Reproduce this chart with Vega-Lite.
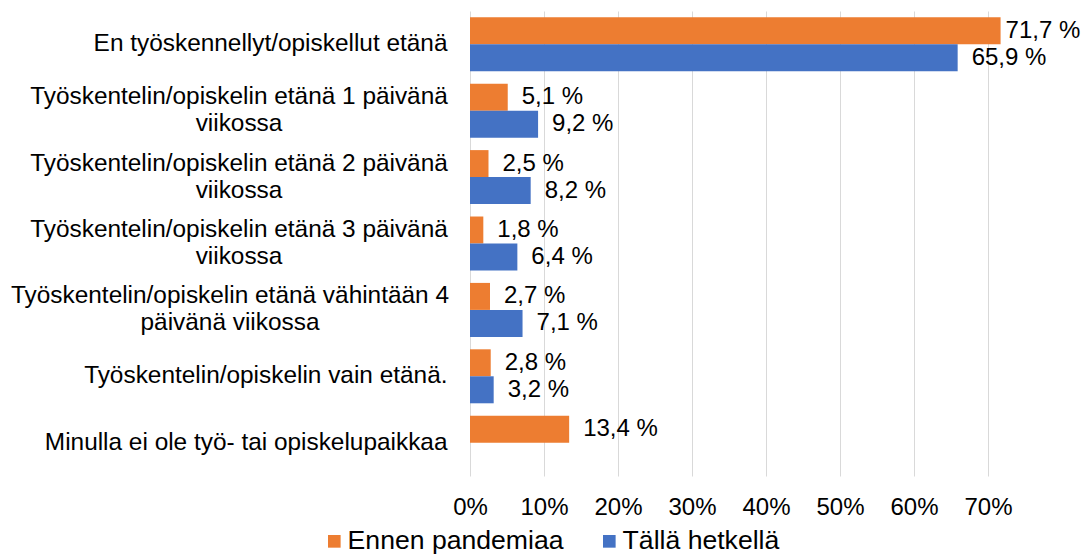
{
  "$schema": "https://vega.github.io/schema/vega-lite/v6.json",
  "autosize": {"type": "none"},
  "padding": {"left": 470, "top": 11, "right": 24, "bottom": 79},
  "width": 592,
  "height": 465,
  "background": "white",
  "config": {
    "font": "Liberation Sans",
    "view": {"stroke": null}
  },
  "data": {
    "values": [
      {"kategoria": "En työskennellyt/opiskellut etänä", "sarja": "Ennen pandemiaa", "arvo": 71.7},
      {"kategoria": "En työskennellyt/opiskellut etänä", "sarja": "Tällä hetkellä", "arvo": 65.9},
      {"kategoria": "Työskentelin/opiskelin etänä 1 päivänä viikossa", "sarja": "Ennen pandemiaa", "arvo": 5.1},
      {"kategoria": "Työskentelin/opiskelin etänä 1 päivänä viikossa", "sarja": "Tällä hetkellä", "arvo": 9.2},
      {"kategoria": "Työskentelin/opiskelin etänä 2 päivänä viikossa", "sarja": "Ennen pandemiaa", "arvo": 2.5},
      {"kategoria": "Työskentelin/opiskelin etänä 2 päivänä viikossa", "sarja": "Tällä hetkellä", "arvo": 8.2},
      {"kategoria": "Työskentelin/opiskelin etänä 3 päivänä viikossa", "sarja": "Ennen pandemiaa", "arvo": 1.8},
      {"kategoria": "Työskentelin/opiskelin etänä 3 päivänä viikossa", "sarja": "Tällä hetkellä", "arvo": 6.4},
      {"kategoria": "Työskentelin/opiskelin etänä vähintään 4 päivänä viikossa", "sarja": "Ennen pandemiaa", "arvo": 2.7},
      {"kategoria": "Työskentelin/opiskelin etänä vähintään 4 päivänä viikossa", "sarja": "Tällä hetkellä", "arvo": 7.1},
      {"kategoria": "Työskentelin/opiskelin vain etänä.", "sarja": "Ennen pandemiaa", "arvo": 2.8},
      {"kategoria": "Työskentelin/opiskelin vain etänä.", "sarja": "Tällä hetkellä", "arvo": 3.2},
      {"kategoria": "Minulla ei ole työ- tai opiskelupaikkaa", "sarja": "Ennen pandemiaa", "arvo": 13.4}
    ]
  },
  "transform": [
    {"calculate": "replace(format(datum.arvo, '.1f'), '.', ',') + ' %'", "as": "teksti"}
  ],
  "encoding": {
    "y": {
      "field": "kategoria",
      "type": "nominal",
      "sort": null,
      "title": null,
      "scale": {"paddingInner": 0.187, "paddingOuter": 0.095},
      "axis": {
        "domain": false,
        "ticks": false,
        "grid": false,
        "labelPadding": {"condition": [{"test": "indexof(datum.value, 'vähintään') >= 0", "value": 240.5}, {"test": "indexof(datum.value, 'viikossa') >= 0", "value": 231.5}], "value": 23},
        "labelFontSize": 24.4,
        "labelColor": "#000000",
        "labelLimit": 600,
        "labelLineHeight": 27,
        "labelAlign": {"condition": {"test": "indexof(datum.value, 'viikossa') >= 0", "value": "center"}, "value": "right"},
        "labelBaseline": "middle",
        "labelOffset": {"condition": {"test": "indexof(datum.value, 'viikossa') >= 0", "value": -13.5}, "value": 0},
        "labelExpr": "indexof(datum.label, 'vähintään') >= 0 ? [replace(datum.label, ' päivänä viikossa', ''), 'päivänä viikossa'] : (indexof(datum.label, 'viikossa') >= 0 ? [replace(datum.label, ' viikossa', ''), 'viikossa'] : datum.label)"
      }
    },
    "yOffset": {"field": "sarja", "type": "nominal", "sort": ["Ennen pandemiaa", "Tällä hetkellä"]},
    "x": {
      "field": "arvo",
      "type": "quantitative",
      "title": null,
      "scale": {"domain": [0, 80], "nice": false},
      "axis": {
        "values": [0, 10, 20, 30, 40, 50, 60, 70],
        "labelExpr": "datum.value + '%'",
        "domain": false,
        "ticks": false,
        "grid": true,
        "gridColor": "#d9d9d9",
        "gridWidth": 1,
        "labelFontSize": 24,
        "labelColor": "#000000",
        "labelPadding": 19,
        "labelFlush": false
      }
    }
  },
  "layer": [
    {
      "mark": {"type": "bar"},
      "encoding": {
        "color": {
          "field": "sarja",
          "type": "nominal",
          "sort": ["Ennen pandemiaa", "Tällä hetkellä"],
          "scale": {"domain": ["Ennen pandemiaa", "Tällä hetkellä"], "range": ["#ED7D31", "#4472C4"]},
          "legend": {
            "title": null,
            "orient": "none",
            "direction": "horizontal",
            "legendX": -149,
            "legendY": 517,
            "symbolType": "square",
            "symbolSize": 160,
            "symbolStrokeWidth": 0,
            "labelFontSize": 26.6,
            "labelColor": "#000000",
            "labelOffset": 0,
            "columnPadding": 32,
            "labelLimit": 400
          }
        }
      }
    },
    {
      "transform": [{"filter": "datum.arvo <= 70"}],
      "mark": {"type": "text", "align": "left", "baseline": "middle", "dx": 14, "fontSize": 24, "color": "#000000"},
      "encoding": {"text": {"field": "teksti"}}
    },
    {
      "transform": [{"filter": "datum.arvo > 70"}],
      "mark": {"type": "text", "align": "left", "baseline": "middle", "dx": 5, "fontSize": 24, "color": "#000000"},
      "encoding": {"text": {"field": "teksti"}}
    }
  ]
}
